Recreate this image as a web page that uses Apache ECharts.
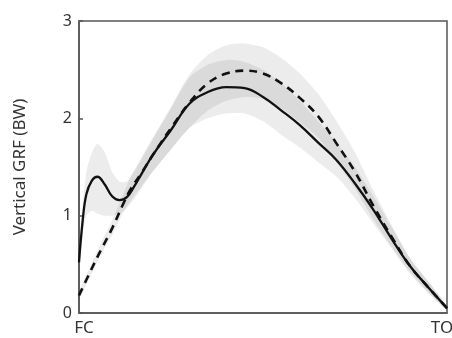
<!DOCTYPE html>
<html>
<head>
<meta charset="utf-8">
<script src="https://cdn.jsdelivr.net/npm/echarts@6/dist/echarts.min.js"></script>
<style>
  html, body { margin: 0; padding: 0; background: #fff; }
  #chart { width: 452px; height: 338px; }
</style>
</head>
<body>
<div id="chart"></div>
<script>
// % stance, FC (0) to TO (100)
const solidStance = [0, 1, 2, 3.5, 5, 7, 9, 11, 13, 15, 17, 20, 25, 30, 35, 40, 45, 50, 55, 60, 65, 70, 75, 80, 85, 90, 95, 100];
const solidMean   = [0.52, 0.95, 1.22, 1.36, 1.40, 1.32, 1.20, 1.16, 1.19, 1.30, 1.43, 1.62, 1.88, 2.15, 2.27, 2.32, 2.31, 2.22, 2.08, 1.93, 1.75, 1.57, 1.33, 1.06, 0.76, 0.48, 0.26, 0.05];
const solidLower  = [0.48, 0.80, 1.00, 1.05, 1.02, 1.00, 1.00, 1.02, 1.08, 1.17, 1.28, 1.45, 1.68, 1.90, 2.00, 2.05, 2.05, 1.97, 1.83, 1.70, 1.55, 1.40, 1.18, 0.92, 0.66, 0.40, 0.20, 0.03];
const solidUpper  = [0.56, 1.10, 1.45, 1.65, 1.74, 1.65, 1.45, 1.35, 1.35, 1.45, 1.58, 1.78, 2.10, 2.42, 2.55, 2.60, 2.58, 2.50, 2.36, 2.18, 1.97, 1.75, 1.50, 1.20, 0.88, 0.56, 0.32, 0.07];

const dashedStance = [0, 3, 6, 9, 12, 14, 17, 20, 25, 30, 35, 40, 45, 50, 55, 60, 65, 70, 75, 80, 85, 90, 95, 100];
const dashedMean   = [0.18, 0.42, 0.65, 0.87, 1.12, 1.27, 1.44, 1.62, 1.90, 2.16, 2.36, 2.46, 2.49, 2.46, 2.36, 2.21, 2.02, 1.74, 1.45, 1.10, 0.78, 0.48, 0.26, 0.05];
const dashedLower  = [0.14, 0.37, 0.60, 0.80, 1.03, 1.15, 1.30, 1.45, 1.68, 1.90, 2.08, 2.18, 2.22, 2.20, 2.10, 1.96, 1.80, 1.55, 1.28, 0.96, 0.68, 0.42, 0.21, 0.03];
const dashedUpper  = [0.22, 0.47, 0.72, 0.95, 1.22, 1.40, 1.60, 1.80, 2.12, 2.45, 2.65, 2.75, 2.77, 2.73, 2.62, 2.46, 2.25, 1.97, 1.65, 1.26, 0.90, 0.56, 0.32, 0.07];

const yTicks = [0, 1, 2, 3];
const xTickLabels = { 0: '{fc|FC}', 100: '{to|TO}' };

const chart = echarts.init(document.getElementById('chart'));

const pairs = (xs, ys) => xs.map((x, i) => [x, ys[i]]);

const bandFill = 'rgba(0, 0, 0, 0.075)';
const font = '"Noto Sans", sans-serif';

// shaded SD band drawn as one polygon: upper edge forward, lower edge back
function band(name, xs, lo, hi) {
  return {
    name: name,
    type: 'custom',
    silent: true,
    z: 1,
    data: xs.map((x, i) => [x, lo[i], hi[i]]),
    encode: { x: 0, y: [1, 2] },
    renderItem: (params, api) => {
      if (params.dataIndex !== 0) return null;
      const top = xs.map((x, i) => api.coord([x, hi[i]]));
      const bottom = xs.map((x, i) => api.coord([x, lo[i]])).reverse();
      return {
        type: 'polygon',
        shape: { points: top.concat(bottom), smooth: 0.25 },
        style: { fill: bandFill }
      };
    }
  };
}

const labelText = { color: '#333', fontFamily: font, fontSize: 17 };

const option = {
  animation: false,
  backgroundColor: '#fff',
  grid: {
    left: 79,
    right: 5,
    top: 21,
    bottom: 25,
    containLabel: false,
    outerBoundsMode: 'none',
    show: true,
    borderColor: '#555',
    borderWidth: 1.5,
    backgroundColor: 'transparent'
  },
  xAxis: {
    type: 'value',
    min: 0,
    max: 100,
    interval: 100,
    axisLine: { show: true, lineStyle: { color: '#555', width: 1.5 } },
    axisTick: { show: false },
    splitLine: { show: false },
    axisLabel: {
      ...labelText,
      margin: 7,
      formatter: (v) => xTickLabels[v] || '',
      rich: {
        fc: { ...labelText, padding: [0, 0, 0, 10] },
        to: { ...labelText, padding: [0, 10, 0, 0] }
      }
    }
  },
  yAxis: {
    type: 'value',
    min: yTicks[0],
    max: yTicks[yTicks.length - 1],
    interval: 1,
    name: 'Vertical GRF (BW)',
    nameLocation: 'middle',
    nameGap: 50,
    nameTextStyle: { ...labelText },
    axisLine: { show: true, lineStyle: { color: '#555', width: 1.5 } },
    axisTick: { show: true, inside: true, length: 4, lineStyle: { color: '#555', width: 1.5 } },
    splitLine: { show: false },
    axisLabel: { color: '#333', fontFamily: font, fontSize: 16, margin: 7 }
  },
  series: [
    band('solidBand', solidStance, solidLower, solidUpper),
    band('dashedBand', dashedStance, dashedLower, dashedUpper),
    {
      name: 'dashed',
      type: 'line',
      data: pairs(dashedStance, dashedMean),
      smooth: 0.4,
      symbol: 'none',
      lineStyle: { color: '#111', width: 2.6, type: [8, 6] },
      z: 3
    },
    {
      name: 'solid',
      type: 'line',
      data: pairs(solidStance, solidMean),
      smooth: 0.4,
      symbol: 'none',
      lineStyle: { color: '#111', width: 2.3 },
      z: 4
    }
  ]
};

chart.setOption(option);
</script>
</body>
</html>
